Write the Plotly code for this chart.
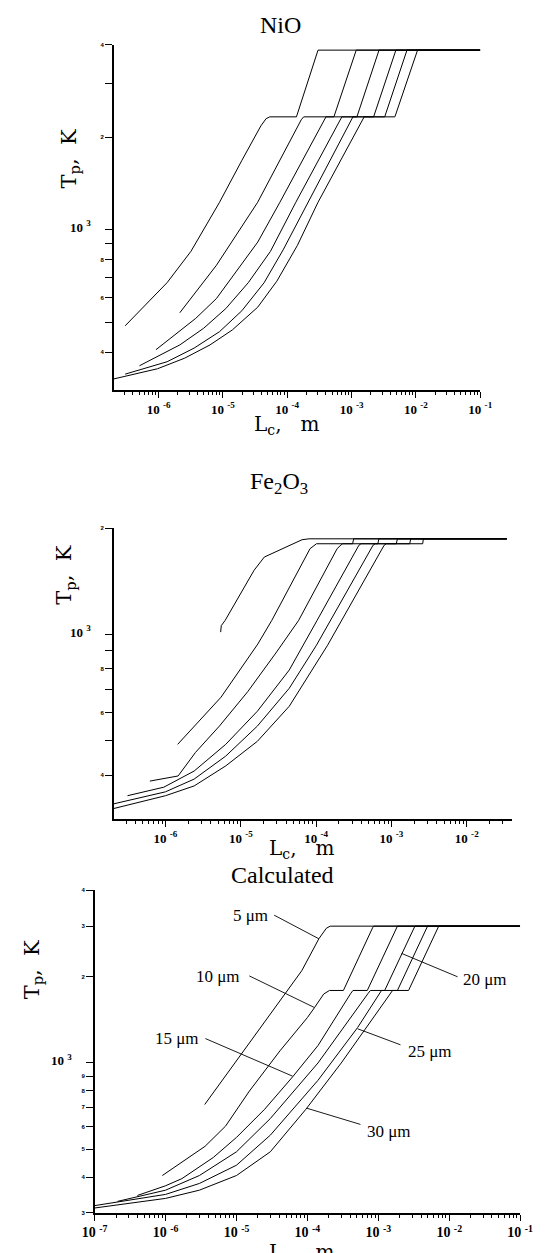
import numpy as np
import plotly.graph_objects as go

W, H = 556, 1253

# ---------------- data (L_c in m, T_p in K) ----------------
sizes = ["5 μm", "10 μm", "15 μm", "20 μm", "25 μm", "30 μm"]

# NiO
nio_5_L = [3.03e-7, 1.36e-6, 3.19e-6, 8.87e-6, 1.96e-5, 3.89e-5, 4.7e-5, 5.35e-5, 1.39e-4, 3.01e-4, 1e-1]
nio_5_T = [487, 673, 851, 1229, 1678, 2178, 2300, 2331, 2331, 3843, 3843]
nio_10_L = [2.14e-6, 7.92e-6, 3.47e-5, 1.65e-4, 1.80e-4, 5.31e-4, 1.18e-3, 1e-1]
nio_10_T = [537, 766, 1229, 2280, 2331, 2331, 3843, 3843]
nio_15_L = [9.1e-7, 3.79e-6, 7.92e-6, 1.75e-5, 3.48e-5, 7.69e-5, 3.7e-4, 4.0e-4, 1.21e-3, 2.67e-3, 1e-1]
nio_15_T = [407, 515, 597, 747, 912, 1229, 2280, 2331, 2331, 3843, 3843]
nio_20_L = [5.06e-7, 2.14e-6, 5.02e-6, 1.11e-5, 2.47e-5, 5.47e-5, 1.36e-4, 6.6e-4, 7.06e-4, 2.2e-3, 4.88e-3, 1e-1]
nio_20_T = [361, 422, 478, 554, 672, 850, 1229, 2280, 2331, 2331, 3843, 3843]
nio_25_L = [3.03e-7, 1.36e-6, 3.57e-6, 8.87e-6, 1.97e-5, 4.36e-5, 8.63e-5, 2.09e-4, 9.8e-4, 1.05e-3, 3.27e-3, 7.26e-3, 1e-1]
nio_25_T = [339, 372, 412, 466, 545, 672, 860, 1229, 2280, 2331, 2331, 3843, 3843]
nio_30_L = [2.01e-7, 9.67e-7, 2.54e-6, 6.31e-6, 1.40e-5, 3.48e-5, 6.88e-5, 1.44e-4, 3.01e-4, 1.47e-3, 1.57e-3, 4.71e-3, 1.06e-2, 1e-1]
nio_30_T = [327, 353, 382, 422, 472, 560, 680, 890, 1229, 2280, 2331, 2331, 3843, 3843]

# Fe2O3
fe_5_L = [5.4e-6, 5.5e-6, 6.2e-6, 8.9e-6, 1.5e-5, 2.05e-5, 3.7e-5, 6.5e-5, 8e-5, 3.4e-2]
fe_5_T = [1016, 1060, 1097, 1250, 1520, 1657, 1760, 1855, 1866, 1866]
fe_10_L = [1.45e-6, 5.46e-6, 1.68e-5, 2.58e-5, 8.3e-5, 9.5e-5, 1.01e-4, 3.05e-4, 3.15e-4, 3.4e-2]
fe_10_T = [489, 665, 940, 1097, 1750, 1795, 1807, 1807, 1866, 1866]
fe_15_L = [6.2e-7, 1.47e-6, 2.5e-6, 5.2e-6, 1.24e-5, 3.0e-5, 5.86e-5, 1.9e-4, 2.15e-4, 2.26e-4, 6.6e-4, 6.8e-4, 3.4e-2]
fe_15_T = [385, 398, 464, 551, 690, 894, 1097, 1750, 1795, 1807, 1807, 1866, 1866]
fe_20_L = [3.13e-7, 9.5e-7, 2.4e-6, 6.3e-6, 1.66e-5, 4.4e-5, 1.03e-4, 3.7e-4, 3.94e-4, 1.16e-3, 1.2e-3, 3.4e-2]
fe_20_T = [350, 370, 411, 489, 607, 794, 1097, 1790, 1807, 1807, 1866, 1866]
fe_25_L = [2.06e-7, 1e-6, 2.4e-6, 6.3e-6, 1.66e-5, 4.4e-5, 1.01e-4, 5.7e-4, 6.1e-4, 1.75e-3, 1.8e-3, 3.4e-2]
fe_25_T = [332, 359, 390, 453, 551, 705, 933, 1790, 1807, 1807, 1866, 1866]
fe_30_L = [2.06e-7, 1e-6, 2.4e-6, 6.3e-6, 1.66e-5, 4.4e-5, 1.42e-4, 8.0e-4, 8.57e-4, 2.6e-3, 2.65e-3, 3.4e-2]
fe_30_T = [322, 350, 373, 425, 499, 627, 933, 1790, 1807, 1807, 1866, 1866]

# Calculated
calc_5_L = [3.56e-6, 8.34e-5, 1.45e-4, 1.85e-4, 2.1e-4, 1e-1]
calc_5_T = [716, 2099, 2711, 2950, 3000, 3000]
calc_10_L = [9.0e-7, 3.6e-6, 7.0e-6, 1.52e-5, 4.1e-5, 1.0e-4, 1.26e-4, 1.7e-4, 2.05e-4, 3.22e-4, 8.3e-4, 8.57e-4, 1e-1]
calc_10_T = [405, 512, 602, 798, 1102, 1440, 1560, 1740, 1790, 1790, 2960, 3000, 3000]
calc_15_L = [4.0e-7, 1.0e-6, 1.7e-6, 4.7e-6, 1.0e-5, 2.5e-5, 6.2e-5, 1.41e-4, 4.1e-4, 4.39e-4, 6.99e-4, 1.8e-3, 1.86e-3, 1e-1]
calc_15_T = [345, 373, 395, 468, 550, 690, 895, 1150, 1750, 1790, 1790, 2960, 3000, 3000]
calc_20_L = [2.1e-7, 1e-6, 3e-6, 1e-5, 3e-5, 1e-4, 1.41e-4, 7.2e-4, 7.73e-4, 1.23e-3, 3.17e-3, 3.28e-3, 1e-1]
calc_20_T = [329, 360, 405, 490, 640, 900, 1000, 1750, 1790, 1790, 2960, 3000, 3000]
calc_25_L = [1e-7, 1e-6, 3e-6, 1e-5, 3e-5, 1e-4, 1.41e-4, 5.12e-4, 1.04e-3, 1.11e-3, 1.86e-3, 4.8e-3, 4.95e-3, 1e-1]
calc_25_T = [318, 348, 380, 440, 560, 790, 870, 1330, 1750, 1790, 1790, 2960, 3000, 3000]
calc_30_L = [1e-7, 1e-6, 3e-6, 1e-5, 3e-5, 9.5e-5, 3e-4, 1.5e-3, 1.59e-3, 2.67e-3, 6.9e-3, 7.11e-3, 1e-1]
calc_30_T = [312, 337, 360, 405, 490, 689, 1000, 1750, 1790, 1790, 2960, 3000, 3000]

# points on calculated curves where the size labels point
label_L = [1.45e-4, 1.26e-4, 6.2e-5, 2.13e-3, 5.1e-4, 9.85e-5]
label_T = [2711, 1560, 899, 2410, 1316, 695]

# tick labels
x_exps_top = [-6, -5, -4, -3, -2, -1]
x_exps_mid = [-6, -5, -4, -3, -2]
x_exps_bot = [-7, -6, -5, -4, -3, -2, -1]
y_top_vals = [4000, 3000, 2000, 1000, 900, 800, 700, 600, 500, 400]
y_top_text = ["4", "", "2", "10³", "", "8", "", "6", "", "4"]
y_mid_vals = [2000, 1000, 900, 800, 700, 600, 500, 400]
y_mid_text = ["2", "10³", "", "8", "", "6", "", "4"]
y_bot_vals = [4000, 3000, 2000, 1000, 900, 800, 700, 600, 500, 400, 300]
y_bot_text = ["4", "3", "2", "10³", "9", "8", "7", "6", "5", "4", "3"]

# ---------------- figure ----------------
fig = go.Figure()

def add(L, T, k):
    fig.add_trace(go.Scatter(x=L, y=T, mode="lines", line=dict(color="black", width=1),
                             xaxis="x" + k, yaxis="y" + k, showlegend=False, hoverinfo="skip"))

for L, T in [(nio_5_L, nio_5_T), (nio_10_L, nio_10_T), (nio_15_L, nio_15_T),
             (nio_20_L, nio_20_T), (nio_25_L, nio_25_T), (nio_30_L, nio_30_T)]:
    add(L, T, "")
for L, T in [(fe_5_L, fe_5_T), (fe_10_L, fe_10_T), (fe_15_L, fe_15_T),
             (fe_20_L, fe_20_T), (fe_25_L, fe_25_T), (fe_30_L, fe_30_T)]:
    add(L, T, "2")
for L, T in [(calc_5_L, calc_5_T), (calc_10_L, calc_10_T), (calc_15_L, calc_15_T),
             (calc_20_L, calc_20_T), (calc_25_L, calc_25_T), (calc_30_L, calc_30_T)]:
    add(L, T, "3")

def px(x): return x / W
def py(y): return 1 - y / H

def minor_vals(lo, hi):
    out = []
    for d in range(int(np.floor(lo)) - 1, int(np.ceil(hi)) + 1):
        for k in range(2, 10):
            v = k * 10.0 ** d
            if lo - 1e-9 <= np.log10(v) <= hi + 1e-9:
                out.append(v)
    return out

SERIF = "Liberation Serif, Times New Roman, serif"
tickfont_x = dict(family=SERIF, size=13, color="black", weight="bold")
tickfont_y = dict(family="Liberation Sans, Arial, sans-serif", size=6, color="black", weight="bold")
big_lbl = '<span style="font-size:13px;font-family:Liberation Serif">10 <sup>3</sup>\u00a0\u00a0\u00a0\u00a0</span>'

def xaxis(dom, rng, exps, anchor, fs=13):
    f = dict(tickfont_x); f["size"] = fs
    return dict(type="log", domain=dom, range=rng, anchor=anchor,
                showline=True, linecolor="black", linewidth=1.5, showgrid=False, zeroline=False,
                ticks="outside", ticklen=6, tickwidth=1, tickcolor="black",
                tickmode="array", tickvals=[10.0 ** e for e in exps],
                ticktext=["10 <sup>%d</sup>" % e for e in exps], tickfont=f,
                minor=dict(tickmode="array", tickvals=minor_vals(rng[0], rng[1]),
                           ticks="outside", ticklen=3, tickwidth=1, tickcolor="black", showgrid=False))

def yaxis(dom, rng, vals, text, anchor):
    tt = [big_lbl if t == "10³" else t for t in text]
    return dict(type="log", domain=dom, range=rng, anchor=anchor,
                showline=True, linecolor="black", linewidth=1.5, showgrid=False, zeroline=False,
                ticks="outside", ticklen=7, tickwidth=1, tickcolor="black",
                tickmode="array", tickvals=vals, ticktext=tt, tickfont=tickfont_y)

lt = np.log10
fig.update_layout(
    width=W, height=H, margin=dict(l=0, r=0, t=0, b=0),
    paper_bgcolor="white", plot_bgcolor="white", showlegend=False,
    xaxis=xaxis([px(105.7), px(490.2)], [-6.696, -1], x_exps_top, "y"),
    yaxis=yaxis([py(389.3), py(42.0)], [lt(300), lt(4000)], y_top_vals, y_top_text, "x"),
    xaxis2=xaxis([px(105.7), px(523.6)], [-6.687, -1.398], x_exps_mid, "y2"),
    yaxis2=yaxis([py(820.3), py(527.7)], [lt(300), lt(2000)], y_mid_vals, y_mid_text, "x2"),
    xaxis3=xaxis([px(85.7), px(532.0)], [-7, -1], x_exps_bot, "y3", fs=14),
    yaxis3=yaxis([py(1215.7), py(891.6)], [lt(300), lt(4000)], y_bot_vals, y_bot_text, "x3"),
)

ann = []
def text(s, x, y, size, fam=SERIF, angle=0):
    ann.append(dict(text=s, x=px(x), y=py(y), xref="paper", yref="paper", showarrow=False,
                    xanchor="center", yanchor="middle", textangle=angle,
                    font=dict(family=fam, size=size, color="black")))

text("NiO", 281, 22, 24)
text("Fe<sub>2</sub>O<sub>3</sub>", 279, 482, 24)
text("Calculated", 283, 876, 24)
ylab = "T<sub>p</sub>,\u00a0\u00a0K"
xlab = "L<sub>c</sub>,\u00a0\u00a0\u00a0m"
DV = "DejaVu Serif, serif"
text(ylab, 60, 157, 21, DV, -90)
text(ylab, 55, 575, 21, DV, -90)
text(ylab, 21, 972, 21, DV, -90)
text(xlab, 287, 424, 20, DV)
text(xlab, 303, 850, 20, DV)
text(xlab, 303, 1256, 20, DV)

# size labels in the calculated panel
label_pos = [(249, 917), (215, 978), (172, 1040), (495, 981), (437, 1054), (394, 1134)]
label_tail = [(-46.2, -24.4), (-66.7, -32.4), (-88.8, -38.3), (57.5, 24.0), (44.4, 16.6), (55.0, 16.6)]
for s, (lx, ly), Lv, Tv, (axp, ayp) in zip(sizes, label_pos, label_L, label_T, label_tail):
    text(s, lx, ly, 17)
    ann.append(dict(text="", x=np.log10(Lv), y=np.log10(Tv), xref="x3", yref="y3",
                    showarrow=True, arrowhead=0, arrowwidth=0.9, arrowcolor="black",
                    ax=axp, ay=ayp, standoff=0, startstandoff=0))

fig.update_layout(annotations=ann)
fig.write_html("out.html", config={"displayModeBar": False},
               post_script="document.body.style.margin='0px';")
